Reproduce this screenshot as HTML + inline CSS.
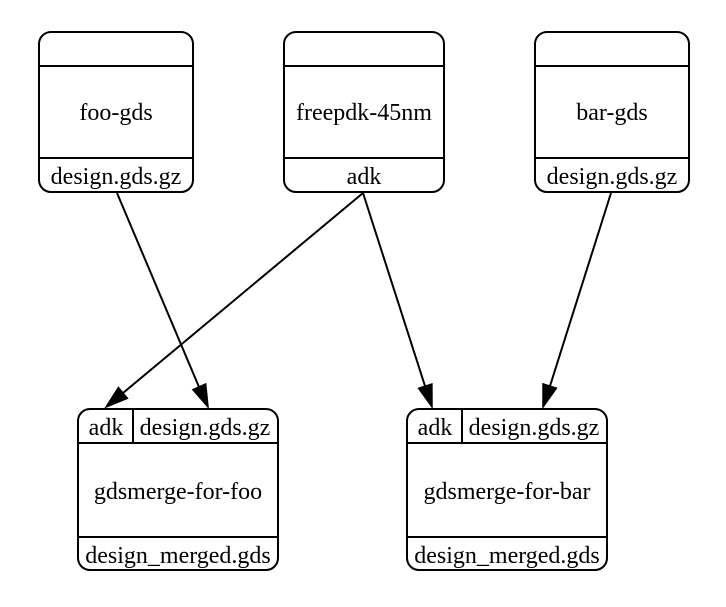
<!DOCTYPE html>
<html><head><style>body{margin:0;background:#fff}</style></head><body>
<svg width="726" height="602" viewBox="0 0 726 602" xmlns="http://www.w3.org/2000/svg">
<g fill="none" stroke="#000" stroke-width="2">
<rect x="39" y="32" width="154" height="160" rx="12"/><line x1="39" y1="66" x2="193" y2="66"/><line x1="39" y1="158" x2="193" y2="158"/>
<rect x="284" y="32" width="160" height="160" rx="12"/><line x1="284" y1="66" x2="444" y2="66"/><line x1="284" y1="158" x2="444" y2="158"/>
<rect x="535" y="32" width="154" height="160" rx="12"/><line x1="535" y1="66" x2="689" y2="66"/><line x1="535" y1="158" x2="689" y2="158"/>
<rect x="78" y="409" width="200" height="161" rx="12"/><line x1="78" y1="443" x2="278" y2="443"/><line x1="78" y1="537" x2="278" y2="537"/><line x1="133" y1="409" x2="133" y2="443"/>
<rect x="407" y="409" width="200" height="161" rx="12"/><line x1="407" y1="443" x2="607" y2="443"/><line x1="407" y1="537" x2="607" y2="537"/><line x1="462" y1="409" x2="462" y2="443"/>
<line x1="117" y1="193" x2="199" y2="387"/>
<line x1="363" y1="193" x2="123" y2="393"/>
<line x1="363" y1="193" x2="425" y2="386"/>
<line x1="611" y1="193" x2="550" y2="386"/>
</g>
<g fill="#000" stroke="#000" stroke-width="1.5">
<polygon points="208,407 192.9,389.6 205.7,384"/>
<polygon points="106,407 118.4,387.5 127.4,398.3"/>
<polygon points="432,407 418.6,388.3 431.9,384"/>
<polygon points="543,407 543,383.9 556.4,388.1"/>
</g>
<g font-family="'Liberation Serif','DejaVu Serif',serif" font-size="24" text-anchor="middle" fill="#000">
<text x="116" y="120">foo-gds</text><text x="116" y="184">design.gds.gz</text>
<text x="364" y="120">freepdk-45nm</text><text x="364" y="184">adk</text>
<text x="612" y="120">bar-gds</text><text x="612" y="184">design.gds.gz</text>
<text x="106" y="435">adk</text><text x="205" y="435">design.gds.gz</text>
<text x="178" y="499">gdsmerge-for-foo</text><text x="178" y="563">design_merged.gds</text>
<text x="435" y="435">adk</text><text x="534" y="435">design.gds.gz</text>
<text x="507" y="499">gdsmerge-for-bar</text><text x="507" y="563">design_merged.gds</text>
</g>
</svg>
</body></html>
